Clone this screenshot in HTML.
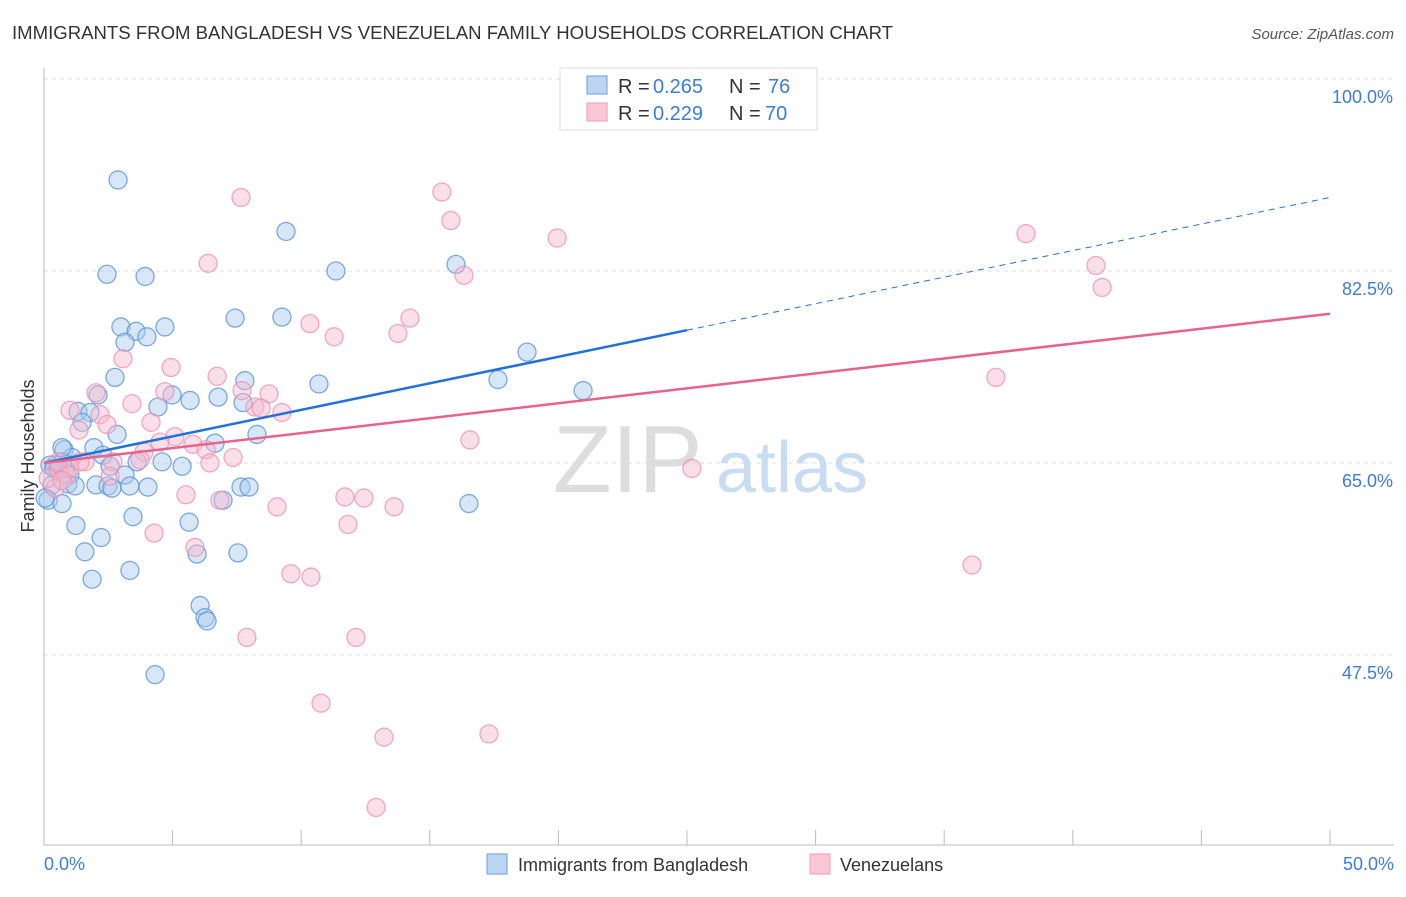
<!DOCTYPE html>
<html><head><meta charset="utf-8"><style>
body{margin:0;background:#fff;font-family:"Liberation Sans",sans-serif;}
svg text{font-family:"Liberation Sans",sans-serif;}
</style></head><body>
<svg id="chart" width="1406" height="892" viewBox="0 0 1406 892">
<text x="12" y="39" font-size="18" fill="#333" textLength="881" lengthAdjust="spacingAndGlyphs">IMMIGRANTS FROM BANGLADESH VS VENEZUELAN FAMILY HOUSEHOLDS CORRELATION CHART</text>
<text x="1394" y="39" font-size="15" fill="#555" font-style="italic" text-anchor="end">Source: ZipAtlas.com</text>
<g>
<text x="553" y="492" font-size="96" fill="#ddd" font-family="Liberation Serif">ZIP</text>
<text x="716" y="492" font-size="72" fill="#c8dcf2">atlas</text>
</g>
<g id="grid"></g>
<g id="axes"></g>
<g id="pts"></g>
<g id="lines"></g>
<text x="34" y="456" font-size="18" fill="#333" text-anchor="middle" transform="rotate(-90 34 456)">Family Households</text>
<text x="44" y="870" font-size="18" fill="#3b7dd8">0.0%</text>
<text x="1394" y="870" font-size="18" fill="#3b7dd8" text-anchor="end">50.0%</text>
<g>
<rect x="560" y="68" width="257" height="62" fill="#fff" stroke="#ddd"/>
<rect x="587" y="76" width="20" height="18" fill="#bcd5f3" stroke="#6a9de0"/>
<rect x="587" y="103" width="20" height="18" fill="#f9c6d6" stroke="#ee9ab6"/>
<g font-size="20">
<text x="618" y="93" fill="#333">R =</text><text x="653" y="93" fill="#3b7dd8">0.265</text>
<text x="729" y="93" fill="#333">N =</text><text x="768" y="93" fill="#3b7dd8">76</text>
</g>
<g font-size="20">
<text x="618" y="120" fill="#333">R =</text><text x="653" y="120" fill="#3b7dd8">0.229</text>
<text x="729" y="120" fill="#333">N =</text><text x="765" y="120" fill="#3b7dd8">70</text>
</g>
</g>
<g>
<rect x="487" y="854" width="20" height="20" fill="#bcd5f3" stroke="#6a9de0"/>
<text x="518" y="871" font-size="18" fill="#333">Immigrants from Bangladesh</text>
<rect x="810" y="854" width="20" height="20" fill="#f9c6d6" stroke="#ee9ab6"/>
<text x="840" y="871" font-size="18" fill="#333">Venezuelans</text>
</g>
</svg>
<script>
const yTicks=[100,82.5,65,47.5];
const yTickLabels=["100.0%","82.5%","65.0%","47.5%"];
const blueX=[2.88,9.41,2.45,3.93,11.35,16.02,2.99,3.58,4.70,4.00,3.15,7.43,9.25,18.78,2.76,7.81,10.69,17.65,20.96,2.10,4.98,5.68,6.77,7.74,1.32,1.79,4.43,1.48,2.84,8.28,6.65,0.78,1.94,1.09,2.29,0.70,0.43,0.82,0.23,0.54,3.62,4.59,5.37,2.57,1.01,3.15,0.31,0.93,1.21,2.02,2.49,2.64,3.34,4.04,6.96,7.66,7.97,0.16,0.70,16.52,1.24,3.46,5.64,2.22,1.59,5.95,7.54,3.34,1.87,6.07,6.26,6.34,4.32,0.70,0.39,0.04];
const blueY=[90.8,86.1,82.2,82.0,82.5,83.1,77.4,77.0,77.4,76.5,76.0,78.2,78.3,75.1,72.8,72.5,72.2,72.6,71.6,71.2,71.2,70.7,71.0,70.5,69.7,69.6,70.1,68.7,67.6,67.6,66.8,66.2,66.4,65.5,65.7,65.1,64.8,64.5,64.8,64.4,65.1,65.1,64.7,64.7,63.9,63.9,63.0,63.1,62.9,63.0,62.9,62.7,62.9,62.8,61.6,62.8,62.8,61.6,61.3,61.3,59.3,60.1,59.6,58.2,56.9,56.7,56.8,55.2,54.4,52.0,50.9,50.6,45.7,66.4,64.5,61.8];
const pinkX=[7.66,15.47,15.82,19.95,38.18,40.90,41.14,6.38,16.33,10.34,11.28,13.76,14.23,3.07,4.94,6.73,37.01,2.02,4.70,7.70,8.75,3.42,8.20,8.44,9.25,1.01,2.18,2.45,4.16,1.36,5.09,4.51,16.56,5.79,3.89,6.30,7.35,3.73,1.59,2.68,6.45,25.19,2.57,0.58,0.89,0.43,5.52,11.70,12.44,6.84,9.06,13.61,11.82,4.28,5.87,9.60,10.38,36.08,7.89,12.13,10.77,13.22,17.30,12.91,0.16,1.01,1.40,0.70,0.54];
const pinkY=[89.2,89.7,87.1,85.5,85.9,83.0,81.0,83.2,82.1,77.7,76.5,76.8,78.2,74.5,73.7,72.9,72.8,71.4,71.5,71.6,71.3,70.4,70.1,70.0,69.6,69.8,69.4,68.5,68.7,68.0,67.4,66.9,67.1,66.7,66.0,66.2,65.5,65.3,65.1,65.1,65.0,64.5,63.8,64.4,63.9,62.7,62.1,61.9,61.8,61.6,61.0,61.0,59.4,58.6,57.3,54.9,54.6,55.7,49.1,49.1,43.1,40.0,40.3,33.6,63.6,64.5,65.1,63.4,65.1];
const blueLine=[65.0,77.1]; // at x=0 and x=25 (solid), extended dashed to 50
const pinkLine=[65.0,78.6]; // at x=0 and x=50

const NS="http://www.w3.org/2000/svg";
const sx=v=>44+v*25.72;
const sy=v=>79+(100-v)*10.97;
function mk(t,a,p){const e=document.createElementNS(NS,t);for(const k in a)e.setAttribute(k,a[k]);p.appendChild(e);return e;}
const grid=document.getElementById('grid'),axes=document.getElementById('axes'),pts=document.getElementById('pts'),lines=document.getElementById('lines');
yTicks.forEach((t,i)=>{
  const l=mk('line',{x1:44,x2:1394,y1:sy(t),y2:sy(t),stroke:'#ddd','stroke-dasharray':'4 4'},grid);
  
  
  const tx=mk('text',{x:1393,y:sy(t)+24,'font-size':18,fill:'#3b7dd8','text-anchor':'end'},grid);
  tx.textContent=yTickLabels[i];
  
  
});
const al=mk('line',{x1:44,x2:44,y1:68,y2:845,stroke:'#bbb'},axes);


const bl=mk('line',{x1:44,x2:1394,y1:845,y2:845,stroke:'#bbb'},axes);


for(let i=0;i<=10;i++){
  const t=mk('line',{x1:sx(i*5),x2:sx(i*5),y1:830,y2:845,stroke:'#bbb'},axes);
  
  
}
function dots(X,Y,fill,stroke,name){
  X.forEach((x,i)=>{
    const c=mk('circle',{cx:sx(x),cy:sy(Y[i]),r:9,fill:fill,'fill-opacity':0.45,stroke:stroke,'stroke-width':1.3,'stroke-opacity':0.8},pts);
    
    
  });
}
dots(blueX,blueY,'#a9c9f0','#5b95dc','point-bangladesh');
dots(pinkX,pinkY,'#f6b7cb','#ee94b2','point-venezuelans');
const b1=mk('line',{x1:sx(0),y1:sy(blueLine[0]),x2:sx(25),y2:sy(blueLine[1]),stroke:'#2370d8','stroke-width':2.5},lines);


const bEnd=blueLine[0]+(blueLine[1]-blueLine[0])*2;
const b2=mk('line',{x1:sx(25),y1:sy(blueLine[1]),x2:sx(50),y2:sy(bEnd),stroke:'#2370d8','stroke-width':1,'stroke-dasharray':'6 5'},lines);


const p1=mk('line',{x1:sx(0),y1:sy(pinkLine[0]),x2:sx(50),y2:sy(pinkLine[1]),stroke:'#e8628f','stroke-width':2.5},lines);


</script>
</body></html>
